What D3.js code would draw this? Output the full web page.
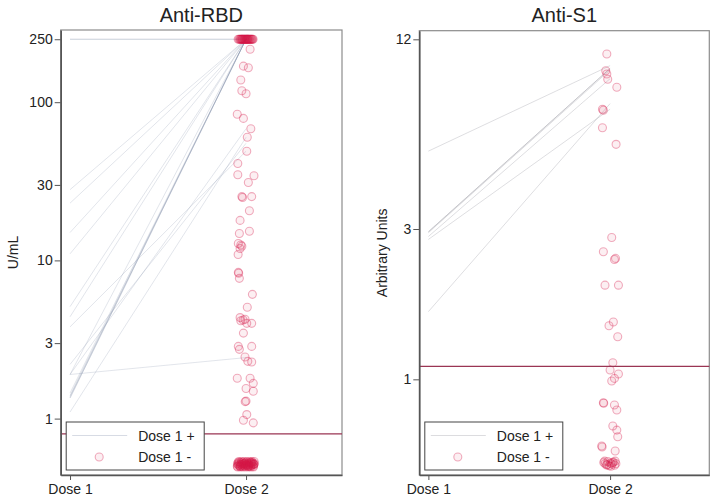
<!DOCTYPE html>
<html><head><meta charset="utf-8">
<script src="https://cdn.jsdelivr.net/npm/d3@7"></script>
<style>
body{margin:0;background:#fff}
text{font-family:"Liberation Sans",Arial,Helvetica,sans-serif}
</style>
</head><body>
<svg id="chart" width="713" height="497"></svg>
<script>
// ---------- data ----------
const categories = ["Dose 1", "Dose 2"];
const legendLabels = ["Dose 1 +", "Dose 1 -"];
const titles = ["Anti-RBD", "Anti-S1"];
const axisLabels = ["U/mL", "Arbitrary Units"];
const rbdTicks = [1, 3, 10, 30, 100, 250];
const s1Ticks = [1, 3, 12];
const rbdCutoff = 0.8;
const s1Cutoff = 1.1;

// Dose 1 positive participants: [Dose 1 value, Dose 2 value]
const rbdLines = [
  [250, 250], [250, 250],
  [28, 250], [23, 250], [15, 250], [11, 250], [5.1, 250], [4.4, 250],
  [1.35, 250], [1.35, 250], [1.38, 250], [1.4, 250], [1.45, 250], [1.9, 250],
  [1.9, 2.43],
  [2.2, 55], [3.8, 49], [1.9, 68], [1.1, 60]
];
// Dose 1 negative participants: [Dose 2 value, jitter offset on x]
const rbdDose2 = [
  [250,-0.045],[250,-0.04],[250,-0.036],[250,-0.032],[250,-0.03],[250,-0.027],[250,-0.024],[250,-0.02],
  [250,-0.018],[250,-0.015],[250,-0.012],[250,-0.01],[250,-0.008],[250,-0.005],[250,-0.003],[250,0],
  [250,0.002],[250,0.004],[250,0.007],[250,0.01],[250,0.012],[250,0.015],[250,0.018],[250,0.02],
  [250,0.024],[250,0.027],[250,0.03],[250,0.033],[250,0.037],[250,0.04],[250,-0.022],[250,0.008],
  [216,0.023],[169,-0.015],[165,0.013],[138,-0.03],[118,-0.024],[113,0],[84,-0.05],[79,-0.015],
  [68,0.027],[60,0.007],[49,0.004],[41,-0.047],[34.8,-0.047],[34.3,0.045],[31.1,0.013],
  [25.3,-0.024],[25.0,-0.02],[25.3,0.032],[20.6,0.019],[17.9,-0.034],[15.3,0.019],[14.8,-0.038],
  [12.8,-0.044],[12.3,-0.024],[11.9,-0.034],[12.5,-0.03],[10.9,-0.045],[8.4,-0.044],[8.3,-0.042],
  [7.7,-0.038],[6.1,0.036],[5.06,0.007],[4.35,-0.034],[4.2,-0.017],[4.25,-0.006],[4.15,-0.03],
  [4.0,0.004],[4.0,0.032],[3.47,-0.015],[2.86,-0.044],[2.86,0.032],[2.74,-0.038],[2.45,-0.006],
  [2.28,0.032],[2.3,0.01],[1.8,-0.05],[1.8,0.023],[1.67,0.041],[1.55,0],[1.49,0.041],[1.29,0],
  [1.28,-0.005],[1.06,0.004],[0.976,-0.015],[0.94,0.041],
  [0.5,-0.05],[0.51,-0.046],[0.52,-0.043],[0.505,-0.04],[0.53,-0.037],[0.515,-0.034],[0.5,-0.031],
  [0.525,-0.028],[0.51,-0.025],[0.5,-0.022],[0.53,-0.019],[0.515,-0.016],[0.505,-0.013],[0.52,-0.01],
  [0.5,-0.007],[0.525,-0.004],[0.51,-0.001],[0.53,0.002],[0.505,0.005],[0.52,0.008],[0.5,0.011],
  [0.515,0.014],[0.525,0.017],[0.51,0.02],[0.5,0.023],[0.53,0.026],[0.505,0.029],[0.52,0.032],
  [0.51,0.035],[0.525,0.038],[0.5,0.041],[0.515,0.044],[0.52,0.047],[0.53,-0.045],[0.5,-0.035],
  [0.52,-0.02],[0.51,0.0],[0.5,0.015],[0.53,0.03],[0.515,0.04],
  [0.495,-0.048],[0.535,-0.041],[0.495,-0.033],[0.535,-0.026],[0.495,-0.018],[0.535,-0.011],[0.495,-0.003],
  [0.535,0.004],[0.495,0.012],[0.535,0.019],[0.495,0.027],[0.535,0.034],[0.495,0.042],[0.535,0.046],
  [0.512,-0.029],[0.518,-0.008],[0.508,0.013],[0.522,0.028],[0.512,0.045],[0.518,-0.049]
];

const s1Lines = [
  [2.94, 9.7], [2.94, 9.7], [2.92, 9.6], [2.84, 9.0], [5.3, 9.9], [2.78, 7.2], [1.64, 7.5]
];
const s1Dose2 = [
  [10.78,-0.018],[9.54,-0.024],[9.31,-0.018],[8.96,-0.013],[8.45,0.037],[7.2,-0.042],[7.15,-0.037],
  [6.29,-0.042],[5.57,0.033],[2.82,0.009],[2.54,-0.037],[2.4,0.024],[2.42,0.03],[1.99,-0.028],
  [1.99,0.046],[1.52,0.018],[1.48,-0.006],[1.365,0.042],[1.129,0.015],[1.07,0],[1.04,0.046],
  [1.007,0.024],[0.988,0.009],[0.843,-0.037],[0.84,-0.035],[0.829,0.024],[0.799,0.037],[0.711,0.015],
  [0.69,0.037],[0.657,0.042],[0.614,-0.046],[0.61,-0.044],[0.592,0.028],
  [0.545,-0.035],[0.54,-0.028],[0.535,-0.02],[0.548,-0.012],[0.532,-0.005],[0.542,0.002],[0.538,0.01],
  [0.546,0.018],[0.534,0.025],[0.54,0.032],[0.55,-0.03],[0.53,0.005],[0.544,0.014],[0.536,-0.016],[0.55,0.028]
];

// ---------- drawing ----------
const svg = d3.select("#chart");
const FONT = '"Liberation Sans",Arial,Helvetica,sans-serif';

function drawPanel(cfg) {
  const {x0, x1, y0, y1} = cfg.box;
  const x = d3.scaleLinear().domain(cfg.xDomain).range([x0, x1]);
  const y = d3.scaleLog().domain(cfg.yDomain).range([y1, y0]);
  const g = svg.append("g");

  g.append("rect").attr("x", x0).attr("y", y0).attr("width", x1 - x0).attr("height", y1 - y0)
    .attr("fill", "none").attr("stroke", "#8c8c8c").attr("stroke-width", 1.2);

  g.append("g").selectAll("line").data(cfg.lines).join("line")
    .attr("x1", x(1)).attr("x2", x(2))
    .attr("y1", d => y(d[0])).attr("y2", d => y(d[1]))
    .attr("stroke", cfg.lineColor).attr("stroke-opacity", cfg.lineOpacity).attr("stroke-width", 1);

  g.append("g").selectAll("circle").data(cfg.points).join("circle")
    .attr("cx", d => x(2 + d[1])).attr("cy", d => y(d[0])).attr("r", 4)
    .attr("fill", "rgba(215,25,75,0.07)")
    .attr("stroke", "#d8194b").attr("stroke-opacity", 0.35).attr("stroke-width", 1.1);

  g.append("line").attr("x1", x0).attr("x2", x1)
    .attr("y1", y(cfg.cutoff)).attr("y2", y(cfg.cutoff))
    .attr("stroke", "#9a3553").attr("stroke-width", 1.3);

  const ya = g.append("g").attr("transform", `translate(${x0},0)`)
    .call(d3.axisLeft(y).tickValues(cfg.ticks).tickFormat(d => String(d))
      .tickSize(6).tickSizeOuter(0).tickPadding(2));
  const xa = g.append("g").attr("transform", `translate(0,${y1})`)
    .call(d3.axisBottom(x).tickValues([1, 2]).tickFormat(d => categories[d - 1])
      .tickSize(5).tickSizeOuter(0).tickPadding(4));
  [ya, xa].forEach(a => {
    a.select(".domain").attr("stroke", "#555").attr("stroke-width", 1.6);
    a.selectAll(".tick line").attr("stroke", "#555").attr("stroke-width", 1);
    a.selectAll(".tick text").attr("fill", "#222").style("font-family", FONT).style("font-size", "14px");
  });

  g.append("text").attr("x", (x0 + x1) / 2).attr("y", 21.7).attr("text-anchor", "middle")
    .style("font-size", "20px").attr("fill", "#222").text(cfg.title);

  g.append("text").attr("transform", `translate(${cfg.labelX},${(y0 + y1) / 2}) rotate(-90)`)
    .attr("text-anchor", "middle").style("font-size", "14px").attr("fill", "#222").text(cfg.axisLabel);

  // legend
  const bx = x0 + 5.5, by = y1 - 53;
  const lg = g.append("g");
  lg.append("rect").attr("x", bx).attr("y", by).attr("width", 138).attr("height", 48)
    .attr("fill", "#fff").attr("stroke", "#444").attr("stroke-width", 1);
  lg.append("line").attr("x1", bx + 6).attr("x2", bx + 61).attr("y1", by + 13.5).attr("y2", by + 13.5)
    .attr("stroke", cfg.lineColor).attr("stroke-opacity", 0.3).attr("stroke-width", 1);
  lg.append("circle").attr("cx", bx + 33).attr("cy", by + 35).attr("r", 4)
    .attr("fill", "rgba(215,25,75,0.07)").attr("stroke", "#d8194b").attr("stroke-opacity", 0.35).attr("stroke-width", 1.1);
  lg.append("text").attr("x", bx + 72).attr("y", by + 19).style("font-size", "14px").attr("fill", "#222").text(legendLabels[0]);
  lg.append("text").attr("x", bx + 72).attr("y", by + 40).style("font-size", "14px").attr("fill", "#222").text(legendLabels[1]);
}

drawPanel({
  box: {x0: 60.7, x1: 342, y0: 30, y1: 475},
  xDomain: [0.947, 2.545], yDomain: [0.44, 286],
  ticks: rbdTicks, cutoff: rbdCutoff, lines: rbdLines, points: rbdDose2,
  lineColor: "#7a87a5", lineOpacity: 0.22,
  title: titles[0], axisLabel: axisLabels[0], labelX: 18
});
drawPanel({
  box: {x0: 419.3, x1: 709.3, y0: 30.7, y1: 475},
  xDomain: [0.95, 2.546], yDomain: [0.497, 12.78],
  ticks: s1Ticks, cutoff: s1Cutoff, lines: s1Lines, points: s1Dose2,
  lineColor: "#8a8a94", lineOpacity: 0.28,
  title: titles[1], axisLabel: axisLabels[1], labelX: 386.5
});
</script>
</body></html>
